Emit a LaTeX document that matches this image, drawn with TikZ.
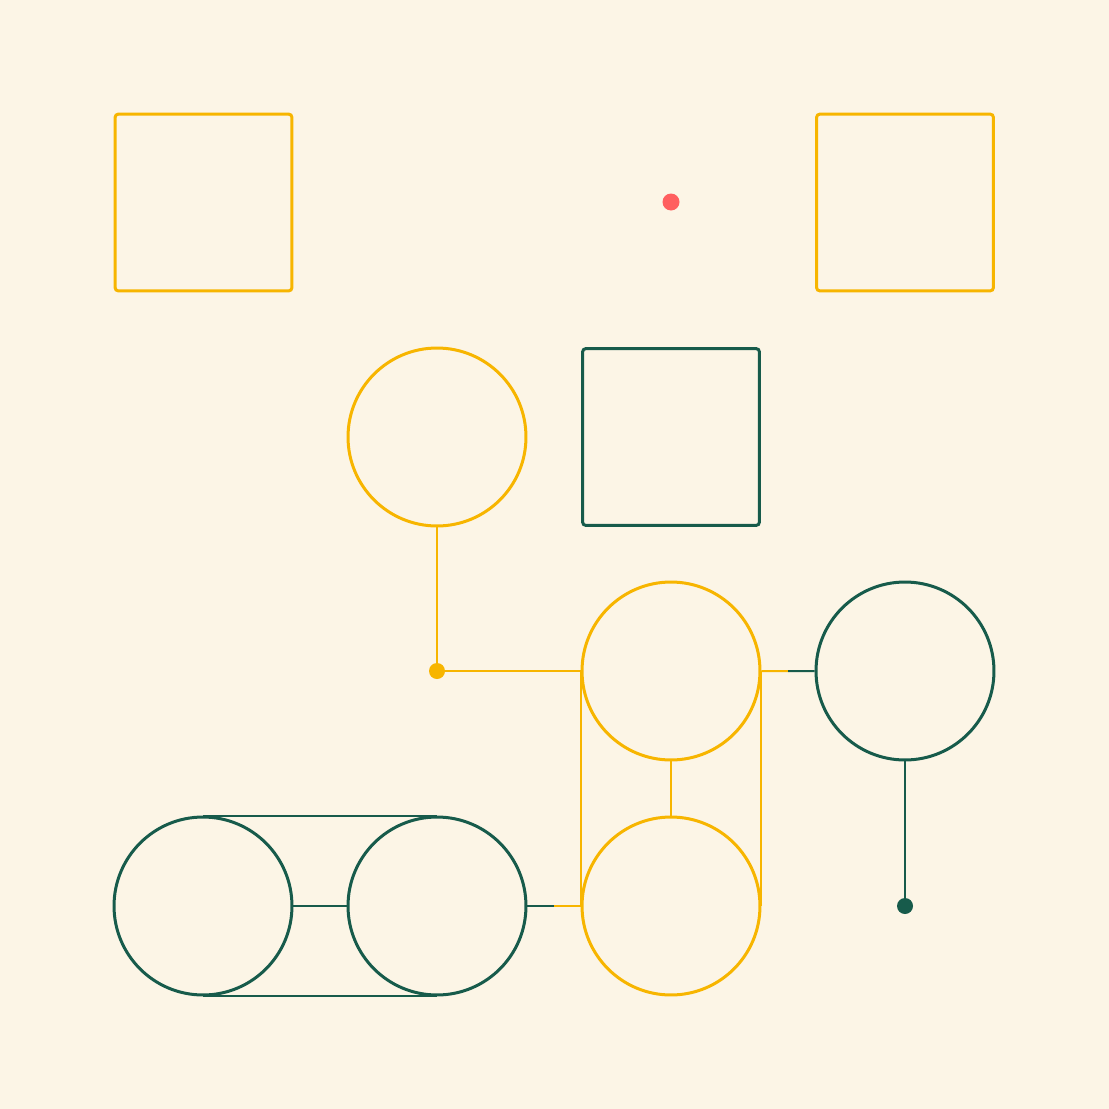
\documentclass[tikz,border=0pt]{standalone}
\usepackage{xcolor}
\usetikzlibrary{calc}
\definecolor{cream}{HTML}{FCF5E6}
\definecolor{amber}{HTML}{F7B500}
\definecolor{pine}{HTML}{175B4B}
\definecolor{coral}{HTML}{FF5F5F}
\tikzset{
  person/.style={circle, draw, line width=0.06cm, minimum size=3.56cm, inner sep=0pt},
  man/.style={rectangle, draw, line width=0.06cm, minimum size=3.54cm, inner sep=0pt, rounded corners=0.07cm},
  tie/.style={line width=0.04cm},
  knot/.style={circle, inner sep=0pt, minimum size=0.32cm}
}
\begin{document}
\begin{tikzpicture}[x=0.02cm, y=-0.02cm]
\fill[cream] (0,0) rectangle (1109,1109);
\useasboundingbox (0,0) rectangle (1109,1109);

\node[man, amber] (sqa) at (203.5,202.5) {};
\node[knot, fill=coral, minimum size=0.34cm] (star) at (671,202) {};
\node[man, amber] (sqb) at (905,202.5) {};

\node[person, amber] (ca) at (437,437) {};
\node[man, pine] (sqc) at (671,437) {};

\node[knot, fill=amber] (dota) at (437,671) {};
\node[person, amber] (cb) at (671,671) {};
\node[person, pine] (cc) at (905,671) {};

\node[person, pine] (cd) at (203,906) {};
\node[person, pine] (ce) at (437,906) {};
\node[person, amber] (cf) at (671,906) {};
\node[knot, fill=pine] (dotb) at (905,906) {};

% lines
\draw[tie, amber] (ca.south) -- (dota.center) -- (cb.west);
\draw[tie, amber] (cb.south) -- (cf.north);
\draw[tie, amber] (cb.west) -- (cf.west);
\draw[tie, amber] (cb.east) -- (cf.east);
\draw[tie, amber] (cb.east) -- ($(cb.east)!0.5!(cc.west)$);
\draw[tie, pine] ($(cb.east)!0.5!(cc.west)$) -- (cc.west);
\draw[tie, pine] (cc.south) -- (dotb.center);

\draw[tie, pine] (cd.east) -- (ce.west);
\draw[tie, pine] (cd.north) -- (ce.north);
\draw[tie, pine] (cd.south) -- (ce.south);
\draw[tie, pine] (ce.east) -- ($(ce.east)!0.5!(cf.west)$);
\draw[tie, amber] ($(ce.east)!0.5!(cf.west)$) -- (cf.west);
\end{tikzpicture}
\end{document}
